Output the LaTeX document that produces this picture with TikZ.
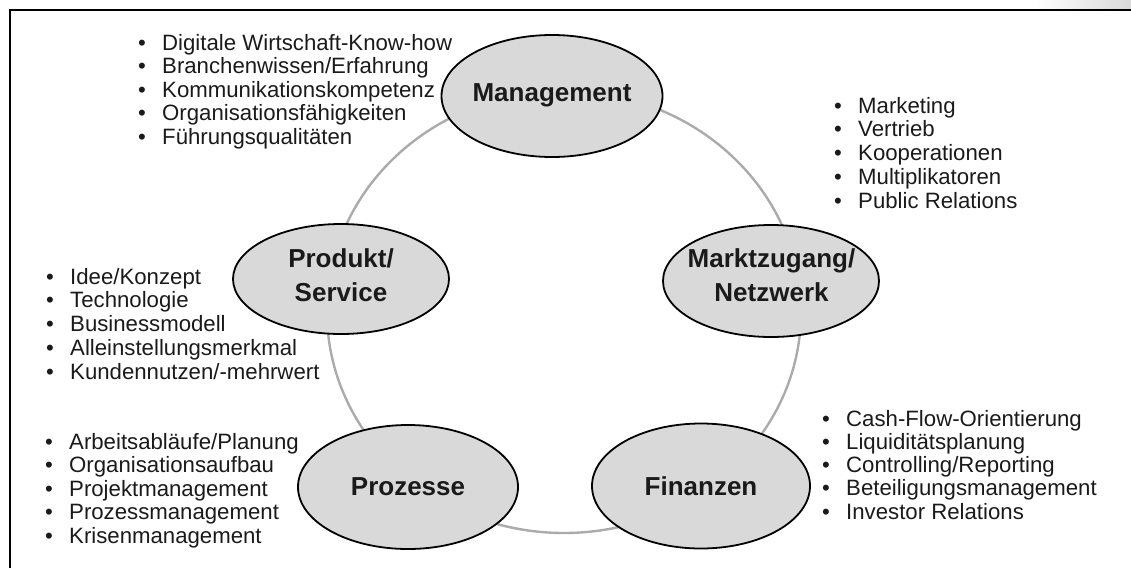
\documentclass[tikz,border=0pt]{standalone}
\usepackage{fontspec}
\setmainfont{Liberation Sans}
\usetikzlibrary{shapes.geometric}
\definecolor{ellfill}{HTML}{D9D9D9}
\definecolor{ringgray}{HTML}{ABABAB}
\definecolor{txt}{HTML}{1A1A1A}
\newcommand{\itembul}{\makebox[0pt][r]{\textbullet\hspace{16.3pt}}}
\begin{document}
\begin{tikzpicture}[x=1pt,y=-1pt,
  hub/.style={ellipse, draw=black, line width=1.8pt, fill=ellfill, inner sep=0pt},
  hublabel/.style={inner sep=0pt, align=center, text=txt, font=\fontsize{26}{34}\selectfont\bfseries},
  item/.style={anchor=base west, inner sep=0pt, text=txt, font=\fontsize{22.2}{24}\selectfont},
  ring/.style={draw=ringgray, line width=2.4pt},
  frame/.style={draw=black, line width=2pt}]
\useasboundingbox (0,0) rectangle (1131,568);
\shade[left color=white, right color=black!15] (1035,0) rectangle (1131,8);
\draw[frame] (9.5,568) -- (9.5,10) -- (1131,10);
\draw[ring] (564,312) ellipse [x radius=237pt, y radius=221pt];

\node[hub, minimum width=221pt, minimum height=122pt] (mgmt) at (552,96) {};
\node[hub, minimum width=216pt, minimum height=110pt] (prod) at (341,279) {};
\node[hub, minimum width=216pt, minimum height=112pt] (markt) at (771,281) {};
\node[hub, minimum width=220pt, minimum height=124pt] (proz) at (408,487) {};
\node[hub, minimum width=218pt, minimum height=125pt] (fin) at (701,486) {};

\node[hublabel] (mgmtl) at (552,95.5) {Management};
\node[hublabel] (prodl) at (341,275) {Produkt/\\Service};
\node[hublabel] (marktl) at (771.5,275) {Marktzugang/\\Netzwerk};
\node[hublabel] (prozl) at (408,487) {Prozesse};
\node[hublabel] (finl) at (701,486) {Finanzen};

\foreach \t [count=\i] in {Digitale Wirtschaft-Know-how, Branchenwissen/Erfahrung, Kommunikationskompetenz, Organisationsfähigkeiten, Führungsqualitäten}
  \node[item] (mg\i) at (162,{50+23.5*(\i-1)}) {\itembul\t};
\foreach \t [count=\i] in {Marketing, Vertrieb, Kooperationen, Multiplikatoren, Public Relations}
  \node[item] (mk\i) at (858,{113+23.75*(\i-1)}) {\itembul\t};
\foreach \t [count=\i] in {Idee/Konzept, Technologie, Businessmodell, Alleinstellungsmerkmal, Kundennutzen/-mehrwert}
  \node[item] (pd\i) at (70,{284+23.75*(\i-1)}) {\itembul\t};
\foreach \t [count=\i] in {Arbeitsabläufe/Planung, Organisationsaufbau, Projektmanagement, Prozessmanagement, Krisenmanagement}
  \node[item] (pz\i) at (69,{449+23.5*(\i-1)}) {\itembul\t};
\foreach \t [count=\i] in {Cash-Flow-Orientierung, Liquiditätsplanung, Controlling/Reporting, Beteiligungsmanagement, Investor Relations}
  \node[item] (fn\i) at (846,{426+23.25*(\i-1)}) {\itembul\t};
\end{tikzpicture}
\end{document}
